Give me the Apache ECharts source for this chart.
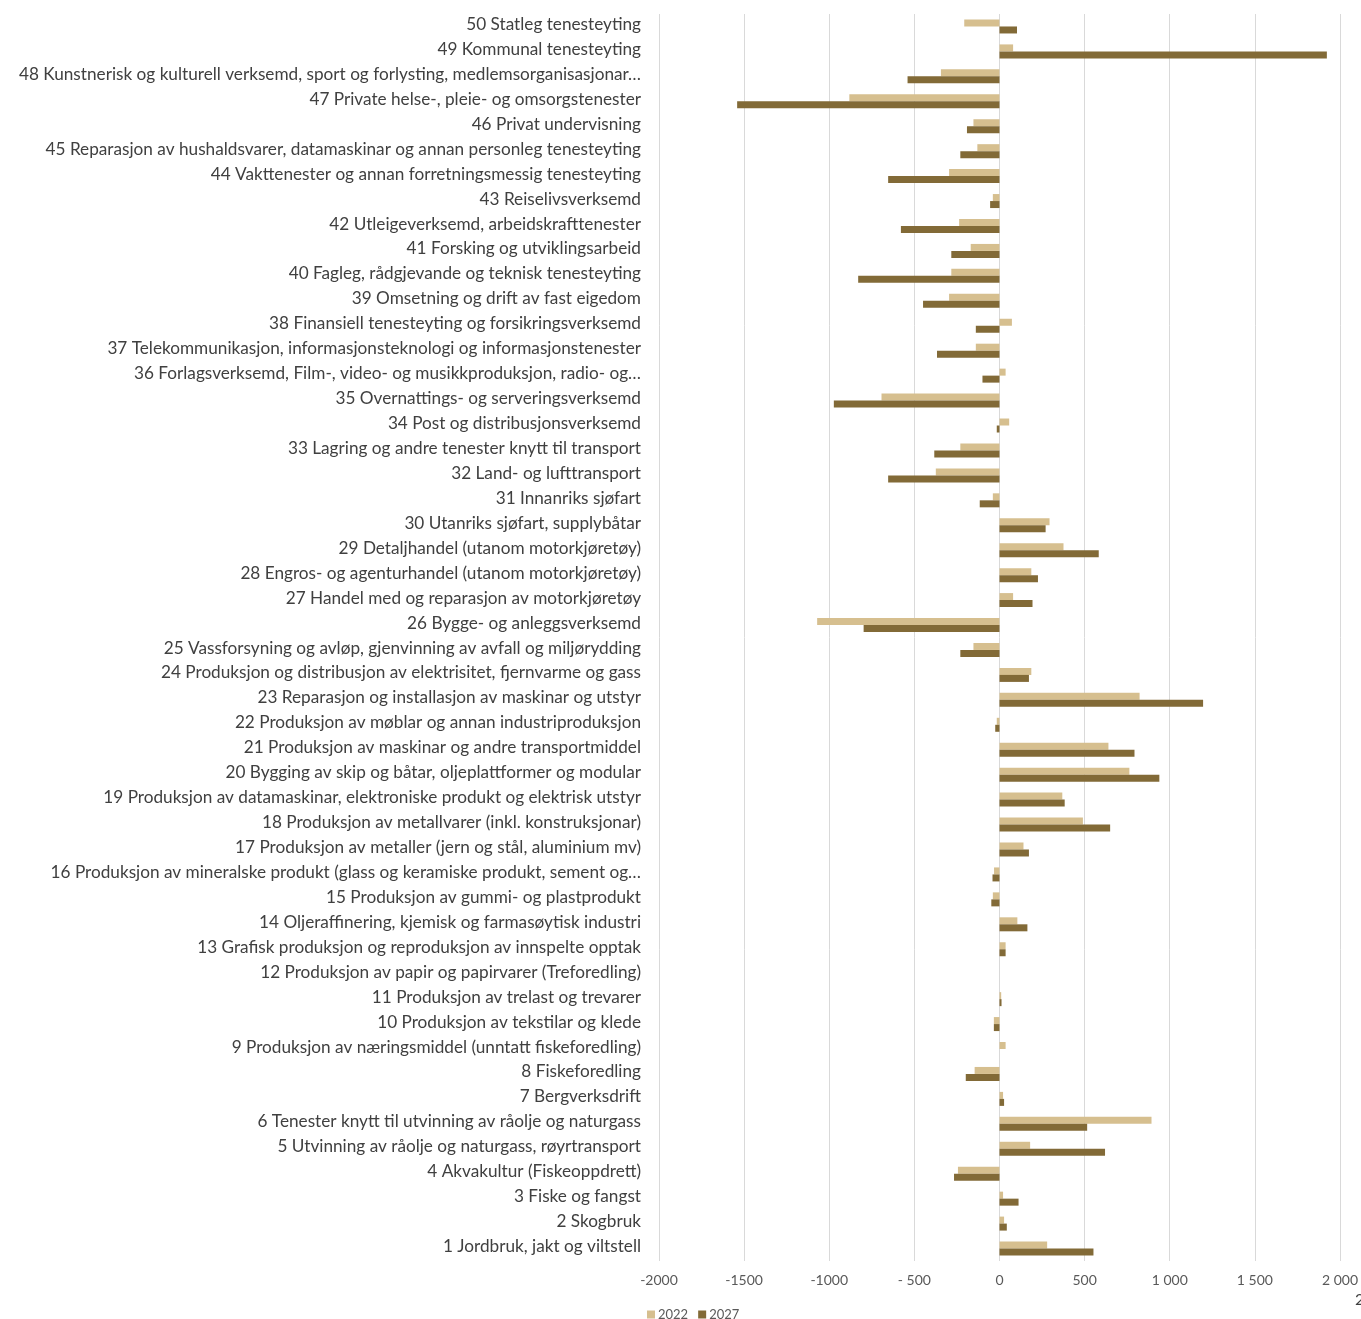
<!DOCTYPE html>
<html>
<head>
<meta charset="utf-8">
<script src="https://cdn.jsdelivr.net/npm/echarts@6/dist/echarts.min.js"></script>
<style>
html,body{margin:0;padding:0;background:#fff;}
#c{width:1361px;height:1319px;}
</style>
</head>
<body>
<div id="c"></div>
<script>
const categories = [
"1 Jordbruk, jakt og viltstell",
"2 Skogbruk",
"3 Fiske og fangst",
"4 Akvakultur (Fiskeoppdrett)",
"5 Utvinning av råolje og naturgass, røyrtransport",
"6 Tenester knytt til utvinning av råolje og naturgass",
"7 Bergverksdrift",
"8 Fiskeforedling",
"9 Produksjon av næringsmiddel (unntatt fiskeforedling)",
"10 Produksjon av tekstilar og klede",
"11 Produksjon av trelast og trevarer",
"12 Produksjon av papir og papirvarer (Treforedling)",
"13 Grafisk produksjon og reproduksjon av innspelte opptak",
"14 Oljeraffinering, kjemisk og farmasøytisk industri",
"15 Produksjon av gummi- og plastprodukt",
"16 Produksjon av mineralske produkt (glass og keramiske produkt, sement og…",
"17 Produksjon av metaller (jern og stål, aluminium mv)",
"18 Produksjon av metallvarer (inkl. konstruksjonar)",
"19 Produksjon av datamaskinar, elektroniske produkt og elektrisk utstyr",
"20 Bygging av skip og båtar, oljeplattformer og modular",
"21 Produksjon av maskinar og andre transportmiddel",
"22 Produksjon av møblar og annan industriproduksjon",
"23 Reparasjon og installasjon av maskinar og utstyr",
"24 Produksjon og distribusjon av elektrisitet, fjernvarme og gass",
"25 Vassforsyning og avløp, gjenvinning av avfall og miljørydding",
"26 Bygge- og anleggsverksemd",
"27 Handel med og reparasjon av motorkjøretøy",
"28 Engros- og agenturhandel (utanom motorkjøretøy)",
"29 Detaljhandel (utanom motorkjøretøy)",
"30 Utanriks sjøfart, supplybåtar",
"31 Innanriks sjøfart",
"32 Land- og lufttransport",
"33 Lagring og andre tenester knytt til transport",
"34 Post og distribusjonsverksemd",
"35 Overnattings- og serveringsverksemd",
"36 Forlagsverksemd, Film-, video- og musikkproduksjon, radio- og…",
"37 Telekommunikasjon, informasjonsteknologi og informasjonstenester",
"38 Finansiell tenesteyting og forsikringsverksemd",
"39 Omsetning og drift av fast eigedom",
"40 Fagleg, rådgjevande og teknisk tenesteyting",
"41 Forsking og utviklingsarbeid",
"42 Utleigeverksemd, arbeidskrafttenester",
"43 Reiselivsverksemd",
"44 Vakttenester og annan forretningsmessig tenesteyting",
"45 Reparasjon av hushaldsvarer, datamaskinar og annan personleg tenesteyting",
"46 Privat undervisning",
"47 Private helse-, pleie- og omsorgstenester",
"48 Kunstnerisk og kulturell verksemd, sport og forlysting, medlemsorganisasjonar…",
"49 Kommunal tenesteyting",
"50 Statleg tenesteyting"
];

const values2022 = [280, 27, 21, -244, 180, 893, 21, -146, 36, -33,
  10, 0, 36, 105, -39, -32, 141, 490, 369, 763,
  640, -16, 823, 187, -153, -1071, 80, 187, 376, 294,
  -39, -374, -230, 57, -693, 36, -139, 73, -296, -283,
  -169, -237, -39, -296, -130, -153, -882, -344, 80, -207];

const values2027 = [552, 43, 112, -267, 620, 515, 27, -198, 0, -33,
  12, 0, 36, 164, -48, -41, 173, 650, 383, 939,
  793, -25, 1196, 173, -230, -798, 194, 226, 583, 271,
  -116, -654, -383, -16, -973, -100, -367, -139, -449, -830,
  -283, -579, -55, -654, -230, -191, -1541, -540, 1923, 103];

const tickValues = [-2000, -1500, -1000, -500, 0, 500, 1000, 1500, 2000];
const tickLabels = ["-2000", "-1500", "-1000", "- 500", "0", "500", "1 000", "1 500", "2 000"];
const seriesNames = ["2022", "2027"];

const chart = echarts.init(document.getElementById('c'), null, {renderer: 'canvas'});
const font = 'Lato';
chart.setOption({
  animation: false,
  backgroundColor: '#ffffff',
  grid: {left: 659, right: 21, top: 14, bottom: 58, containLabel: false},
  legend: {
    left: 642, top: 1303,
    itemWidth: 8, itemHeight: 8, itemGap: 10,
    icon: 'rect',
    data: seriesNames,
    textStyle: {fontFamily: font, fontSize: 13, color: '#595959', padding: [0, 0, 0, -2]}
  },
  xAxis: {
    type: 'value', min: -2000, max: 2000, interval: 500,
    axisLine: {show: false}, axisTick: {show: false},
    splitLine: {show: true, lineStyle: {color: '#d9d9d9', width: 1}},
    axisLabel: {
      fontFamily: font, fontSize: 14, color: '#595959', margin: 12,
      formatter: function (v) { const i = tickValues.indexOf(v); return i >= 0 ? tickLabels[i] : ''; }
    }
  },
  yAxis: {
    type: 'category', data: categories,
    axisLine: {show: false, onZero: false}, axisTick: {show: false},
    splitLine: {show: false},
    axisLabel: {fontFamily: font, fontSize: 17.2, color: '#404040', margin: 18, interval: 0,
      verticalAlign: 'bottom', lineHeight: 4}
  },
  series: [
    {name: seriesNames[0], type: 'bar', data: values2022, barWidth: 7, barGap: '0%',
     itemStyle: {color: '#D6BF8F'}},
    {name: seriesNames[1], type: 'bar', data: values2027, barWidth: 7, barGap: '0%',
     itemStyle: {color: '#826A37'}}
  ],
  graphic: [
    {type: 'text', left: 1355, top: 1292, style: {text: '2', font: '16px Lato', fill: '#404040'}}
  ]
});
</script>
</body>
</html>
